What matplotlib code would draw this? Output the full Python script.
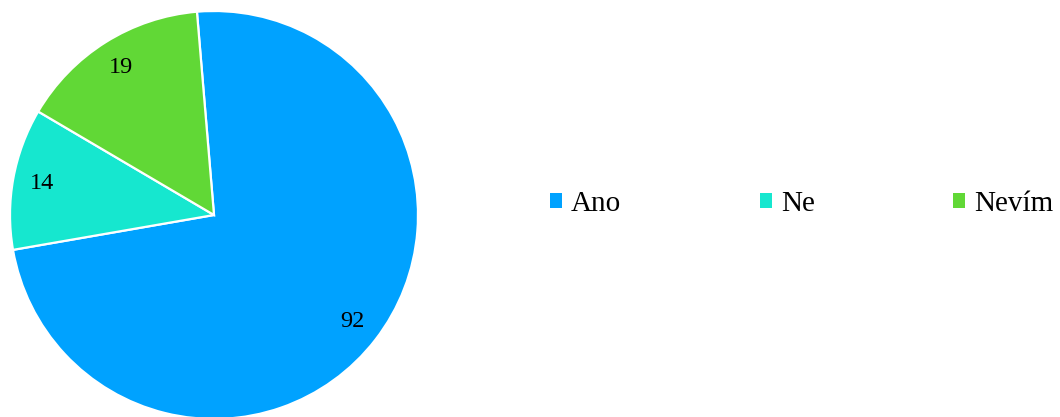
import matplotlib
matplotlib.use("Agg")
import matplotlib.pyplot as plt
from matplotlib.patches import Patch

categories = ["Ano", "Ne", "Nevím"]
values = [92, 14, 19]
colors = ["#00A2FF", "#16E7CF", "#61D836"]

plt.rcParams['font.family'] = ['Liberation Serif', 'DejaVu Serif']

W, H = 1060, 417
fig = plt.figure(figsize=(W / 100, H / 100), dpi=100)
cx, cy, r = 214, 215, 204
ax = fig.add_axes([(cx - r) / W, (H - cy - r) / H, 2 * r / W, 2 * r / H])

wedges, texts, autotexts = ax.pie(
    values, colors=colors, startangle=94.8, counterclock=False,
    autopct=lambda p: f"{p * sum(values) / 100:.0f}", pctdistance=0.855,
    wedgeprops=dict(edgecolor="white", linewidth=1.6),
    textprops=dict(fontsize=17.5, color="black"), radius=1.0)
ax.set_xlim(-1, 1)
ax.set_ylim(-1, 1)
ax.axis("off")

handles = [Patch(facecolor=c, edgecolor="none") for c in colors]
fig.legend(handles, categories, ncol=3, loc="center left",
           bbox_to_anchor=(550 / W, 1 - 203.5 / H), frameon=False,
           fontsize=21, handlelength=0.42, handleheight=0.42,
           handletextpad=0.3, columnspacing=4.75, borderaxespad=0, borderpad=0)

fig.savefig("out.png", dpi=100)
